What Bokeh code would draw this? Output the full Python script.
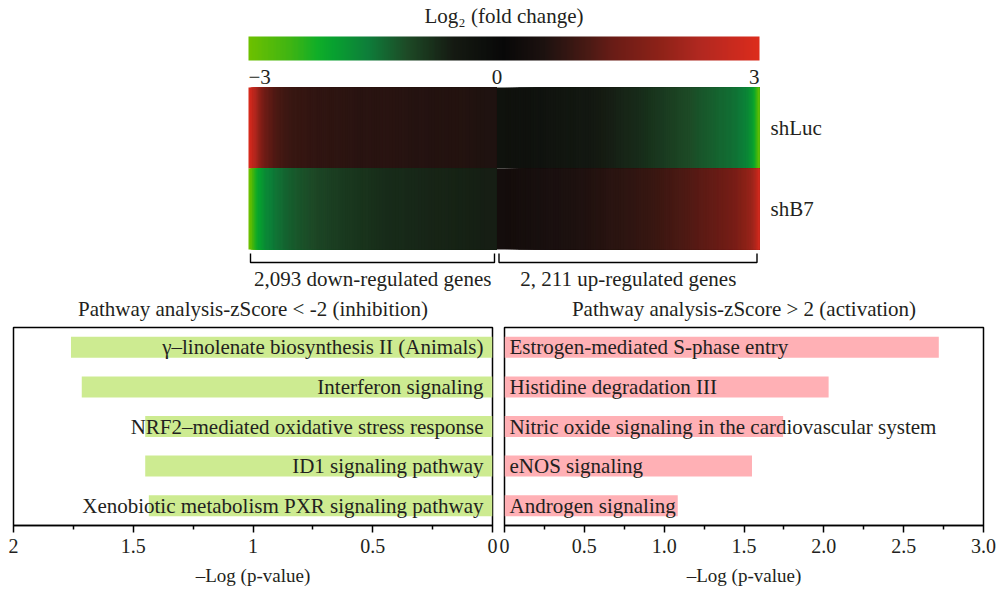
import numpy as np
from bokeh.plotting import figure
from bokeh.layouts import column, row
from bokeh.models import Range1d, FactorRange, FixedTicker, LinearColorMapper
from bokeh.transform import linear_cmap
from bokeh.core.properties import value
from bokeh.embed import file_html
from bokeh.resources import INLINE

# ---------------- data ----------------
samples = ["shLuc", "shB7"]
group_labels = ["2,093 down-regulated genes", "2, 211 up-regulated genes"]
group_sizes = [2093, 2211]

# sorted genes binned by rank (bin edges in gene rank), log2 fold change per bin
down_edges = [0, 17, 34, 50, 67, 84, 109, 134, 168, 210, 252, 303, 361, 429, 504, 588, 689, 799,
              925, 1068, 1219, 1387, 1555, 1723, 1908, 2093]
up_edges = [2093, 2220, 2346, 2473, 2599, 2726, 2853, 2979, 3106, 3232, 3359, 3469, 3578, 3680,
            3772, 3857, 3933, 4000, 4059, 4110, 4152, 4186, 4220, 4245, 4270, 4287, 4304]
shluc_down = [2.9, 2.7, 2.5, 2.3, 2.05, 1.8, 1.5, 1.3, 1.15, 1.02, 0.92, 0.84, 0.79, 0.75, 0.72,
              0.69, 0.66, 0.64, 0.62, 0.61, 0.6, 0.58, 0.56, 0.54, 0.51]
shb7_down = [-3.0, -2.8, -2.5, -2.3, -2.1, -2.0, -1.85, -1.72, -1.62, -1.52, -1.43, -1.35, -1.27,
             -1.2, -1.13, -1.06, -0.99, -0.93, -0.87, -0.82, -0.78, -0.74, -0.71, -0.68, -0.65]
shluc_up = [-0.31, -0.34, -0.37, -0.41, -0.46, -0.52, -0.58, -0.65, -0.73, -0.82, -0.91, -1.0,
            -1.09, -1.17, -1.25, -1.32, -1.39, -1.45, -1.5, -1.56, -1.62, -1.72, -1.88, -2.1,
            -2.45, -2.85]
shb7_up = [0.27, 0.31, 0.36, 0.41, 0.46, 0.51, 0.56, 0.61, 0.67, 0.74, 0.82, 0.9, 0.99, 1.07,
           1.15, 1.22, 1.29, 1.39, 1.5, 1.62, 1.76, 1.88, 2.0, 2.2, 2.45, 2.8]

scale_low, scale_high = -3, 3
scale_ticks = [-3, 0, 3]
scale_tick_labels = ["\u22123", "0", "3"]

inhib_title = "Pathway analysis-zScore < -2 (inhibition)"
inhib_pathways = ["\u03b3\u2013linolenate biosynthesis II (Animals)", "Interferon signaling",
                  "NRF2\u2013mediated oxidative stress response", "ID1 signaling pathway",
                  "Xenobiotic metabolism PXR signaling pathway"]
inhib_values = [1.76, 1.715, 1.45, 1.45, 1.435]
activ_title = "Pathway analysis-zScore > 2 (activation)"
activ_pathways = ["Estrogen-mediated S-phase entry", "Histidine degradation III",
                  "Nitric oxide signaling in the cardiovascular system", "eNOS signaling",
                  "Androgen signaling"]
activ_values = [2.72, 2.03, 1.745, 1.55, 1.085]

inhib_ticks = [0, 0.5, 1, 1.5, 2]
inhib_tick_labels = ["0", "0.5", "1", "1.5", "2"]
activ_ticks = [0, 0.5, 1, 1.5, 2, 2.5, 3]
activ_tick_labels = ["0", "0.5", "1.0", "1.5", "2.0", "2.5", "3.0"]
x_title = "\u2013Log (p-value)"

# ---------------- style ----------------
FONT = "Liberation Serif"
TXT = "#231f20"
GREEN_BAR = "#cdeb91"
PINK_BAR = "#ffb0b5"
stops = [(-3.0, (108, 192, 0)), (-2.5, (60, 180, 20)), (-2.2, (16, 174, 40)), (-2.0, (8, 160, 48)),
         (-1.6, (14, 125, 58)), (-1.15, (29, 74, 38)), (-0.6, (21, 26, 18)), (0.0, (8, 8, 8)),
         (0.5, (30, 18, 16)), (1.0, (74, 26, 20)), (1.3, (106, 28, 22)), (1.85, (142, 34, 24)),
         (2.3, (176, 40, 32)), (2.75, (204, 42, 30)), (3.0, (220, 44, 28))]
RAMP_STEPS = 6  # soft blending between neighbouring bins when drawing


def build_palette(n=256):
    sv = [s[0] for s in stops]
    out = []
    for x in np.linspace(scale_low, scale_high, n):
        c = [int(round(np.interp(x, sv, [s[1][i] for s in stops]))) for i in range(3)]
        out.append("#%02x%02x%02x" % tuple(c))
    return out


palette = build_palette()
mapper = LinearColorMapper(palette=palette, low=scale_low, high=scale_high)

# ---------------- layout constants (page pixels) ----------------
W, H = 998, 597
TOP_H = 322
BOT_H = H - TOP_H
HEAT_L, HEAT_R = 248, 759
HEAT_TOP, ROW_H = 87, 81
CB_TOP, CB_BOT = 36, 60
FRAME_TOP, FRAME_BOT = 327, 525
LEFT_FRAME = (13, 492)
RIGHT_FRAME = (504, 983)

total = sum(group_sizes)
k = total / (HEAT_R - HEAT_L)  # ranks per pixel


def Y(py):
    return TOP_H - py


def X(px):
    return (px - HEAT_L) * k


top = figure(width=W, height=TOP_H, x_range=Range1d(X(0), X(W)),
             y_range=Range1d(0, TOP_H), x_axis_type=None, y_axis_type=None,
             toolbar_location=None, output_backend="svg", min_border=0,
             outline_line_color=None)
top.grid.visible = False

# heatmap: each bin is drawn from its start to the end of its group, in order, so later
# bins cover earlier ones; the hand-over between two bins is softened over a few steps
cmap = linear_cmap("v", palette, scale_low, scale_high)
rows_vals = [(shluc_down, shluc_up), (shb7_down, shb7_up)]
for si, (vd, vu) in enumerate(rows_vals):
    t_ = Y(HEAT_TOP + si * ROW_H)
    b_ = Y(HEAT_TOP + (si + 1) * ROW_H)
    for edges, vals in ((down_edges, vd), (up_edges, vu)):
        centers = [(a + b) / 2 for a, b in zip(edges[:-1], edges[1:])]
        L, V, A = [edges[0]], [vals[0]], [1.0]
        for i in range(1, len(vals)):
            c0, c1 = centers[i - 1], centers[i]
            for j in range(1, RAMP_STEPS + 1):
                L.append(c0 + (c1 - c0) * (j - 0.5) / RAMP_STEPS)
                V.append(vals[i])
                A.append(1.0 / (RAMP_STEPS - j + 1))
        n = len(L)
        top.quad(left="l", right="r", top="t", bottom="b", fill_alpha="a",
                 source=dict(v=V, l=L, r=[edges[-1]] * n, t=[t_] * n, b=[b_] * n, a=A),
                 fill_color=cmap, line_color=None)

# row labels
for si, s in enumerate(samples):
    top.text(x=[total], y=[Y(HEAT_TOP + (si + 0.5) * ROW_H)], text=[s], x_offset=11,
             text_align="left", text_baseline="middle", text_font=value(FONT),
             text_font_size="21px", text_color=TXT)

# colour scale bar
grad = np.linspace(scale_low, scale_high, 600).reshape(1, -1)
top.image(image=[grad], x=0, y=Y(CB_BOT), dw=total, dh=CB_BOT - CB_TOP, color_mapper=mapper)
aligns = ["left", "center", "right"]
for t, lab, al in zip(scale_ticks, scale_tick_labels, aligns):
    xx = (t - scale_low) / (scale_high - scale_low) * total
    if t == 0:
        xx = group_sizes[0]
    top.text(x=[xx], y=[Y(76)], text=[lab], text_align=al, text_baseline="middle",
             text_font=value(FONT), text_font_size="21px", text_color=TXT)
top.text(x=[total / 2], y=[Y(15)], text=["Log\u2082 (fold change)"], text_align="center",
         text_baseline="middle", text_font=value(FONT), text_font_size="21px", text_color=TXT)

# brackets
starts = [0, group_sizes[0]]
ends = [group_sizes[0], total]
bx, by = [], []
for s0, s1 in zip(starts, ends):
    a, b = s0 + 2 * k, s1 - 2.5 * k
    bx.append([a, a, b, b])
    by.append([Y(253), Y(262), Y(262), Y(253)])
top.multi_line(xs=bx, ys=by, line_color="black", line_width=1.4)
for s0, s1, lab in zip(starts, ends, group_labels):
    top.text(x=[(s0 + s1) / 2], y=[Y(278)], text=[lab], text_align="center",
             text_baseline="middle", text_font=value(FONT), text_font_size="21px",
             text_color=TXT)

# panel titles (placed over each bar panel)
for fr, ttl in ((LEFT_FRAME, inhib_title), (RIGHT_FRAME, activ_title)):
    top.text(x=[X((fr[0] + fr[1]) / 2)], y=[Y(308)], text=[ttl], text_align="center",
             text_baseline="middle", text_font=value(FONT), text_font_size="21px",
             text_color=TXT)


def bar_panel(names, vals, xr, ticks, labels, color, width, frame, x0, left_side):
    mb_l = frame[0] - x0
    mb_r = x0 + width - frame[1]
    p = figure(width=width, height=BOT_H, x_range=xr,
               y_range=FactorRange(factors=list(reversed(names))),
               toolbar_location=None, output_backend="svg",
               min_border_left=mb_l, min_border_right=mb_r,
               min_border_top=FRAME_TOP - TOP_H, min_border_bottom=H - FRAME_BOT)
    p.yaxis.visible = False
    p.grid.visible = False
    p.outline_line_color = "black"
    p.outline_line_width = 1.5
    p.outline_line_alpha = 1
    p.hbar(y=names, left=0, right=vals, height=0.53, fill_color=color, line_color=None)
    p.text(x=[0] * len(names), y=names, text=names,
           x_offset=-9 if left_side else 5,
           text_align="right" if left_side else "left", text_baseline="middle",
           text_font=value(FONT), text_font_size="21px", text_color=TXT)
    minor = [(a + b) / 2 for a, b in zip(ticks[:-1], ticks[1:])]
    ax = p.xaxis[0]
    ax.ticker = FixedTicker(ticks=ticks, minor_ticks=minor)
    ax.major_label_overrides = {t: l for t, l in zip(ticks, labels)}
    ax.axis_line_width = 1.5
    ax.major_tick_line_width = 1.5
    ax.minor_tick_line_width = 1.5
    ax.major_tick_out = 7
    ax.major_tick_in = 0
    ax.minor_tick_out = 4
    ax.minor_tick_in = 0
    ax.major_label_text_font = FONT
    ax.major_label_text_font_size = "20px"
    ax.major_label_text_color = TXT
    ax.major_label_standoff = 6
    ax.axis_label = x_title
    ax.axis_label_text_font = FONT
    ax.axis_label_text_font_size = "19px"
    ax.axis_label_text_font_style = "normal"
    ax.axis_label_text_color = TXT
    ax.axis_label_standoff = 9
    return p


left = bar_panel(inhib_pathways, inhib_values, Range1d(inhib_ticks[-1], inhib_ticks[0]),
                 inhib_ticks, inhib_tick_labels, GREEN_BAR, 498, LEFT_FRAME, 0, True)
right = bar_panel(activ_pathways, activ_values, Range1d(activ_ticks[0], activ_ticks[-1]),
                  activ_ticks, activ_tick_labels, PINK_BAR, 500, RIGHT_FRAME, 498, False)

layout = column(top, row(left, right, spacing=0), spacing=0)
open("out.html", "w").write(file_html(layout, INLINE))
